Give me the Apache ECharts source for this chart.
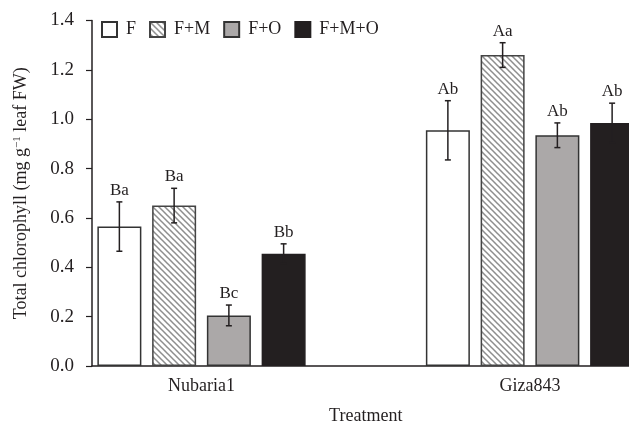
<!DOCTYPE html>
<html>
<head>
<meta charset="utf-8">
<script src="https://cdn.jsdelivr.net/npm/echarts@6/dist/echarts.min.js"></script>
<style>
  html, body { margin: 0; padding: 0; background: #fff; }
  #chart { width: 629px; height: 423px; }
</style>
</head>
<body>
<div id="chart"></div>
<script>
// Datos
const cultivars = ['Nubaria1', 'Giza843'];
const treatments = ['F', 'F+M', 'F+O', 'F+M+O'];
const meanNubaria = [0.565, 0.65, 0.205, 0.455];
const errNubaria = [0.10, 0.07, 0.042, 0.04];
const lettersNubaria = ['Ba', 'Ba', 'Bc', 'Bb'];
const meanGiza = [0.955, 1.26, 0.935, 0.985];
const errGiza = [0.12, 0.05, 0.05, 0.08];
const lettersGiza = ['Ab', 'Aa', 'Ab', 'Ab'];
const yTickLabels = ['0.0', '0.2', '0.4', '0.6', '0.8', '1.0', '1.2', '1.4'];

const means = [meanNubaria, meanGiza];
const errs = [errNubaria, errGiza];
const letters = [lettersNubaria, lettersGiza];

const FONT = '"Liberation Serif", "Times New Roman", serif';
const INK = '#231f20';
const spacerSlots = 2;
const groupSize = treatments.length + spacerSlots;
const slotCount = cultivars.length * groupSize - spacerSlots;

// Trama diagonal para F+M
function hatchPattern() {
    const c = document.createElement('canvas');
    c.width = 6; c.height = 6;
    const ctx = c.getContext('2d');
    ctx.fillStyle = '#fff';
    ctx.fillRect(0, 0, 6, 6);
    ctx.strokeStyle = '#8e8e8e';
    ctx.lineWidth = 1.5;
    ctx.beginPath();
    ctx.moveTo(-1, -1); ctx.lineTo(7, 7);
    ctx.moveTo(-1, 5); ctx.lineTo(1, 7);
    ctx.moveTo(5, -1); ctx.lineTo(7, 1);
    ctx.stroke();
    return { image: c, repeat: 'repeat' };
}

const fills = ['#ffffff', hatchPattern(), '#aba8a8', INK];
const borders = ['#333', '#444', '#333', INK];

// Categorías de ranuras (con separadores vacíos)
const slotNames = [];
for (let s = 0; s < slotCount; s++) {
    const g = Math.floor(s / groupSize), t = s % groupSize;
    slotNames.push(t < treatments.length ? cultivars[g] + ' ' + treatments[t] : '');
}

// Eje de etiquetas de grupo: puntos cada 2 ranuras, el nombre va en el centro de cada grupo
const labelPoints = [];
for (let i = 0; i <= slotCount / 2; i++) labelPoints.push('');
cultivars.forEach((c, ci) => { labelPoints[(ci * groupSize + treatments.length / 2) / 2] = c; });

const barSeries = treatments.map((name, ti) => {
    const data = Array(slotCount).fill('-');
    cultivars.forEach((c, ci) => { data[ci * groupSize + ti] = means[ci][ti]; });
    return {
        name: name,
        type: 'bar',
        xAxisIndex: 0,
        data: data,
        barWidth: 44,
        barGap: '-100%',
        itemStyle: { color: fills[ti], borderColor: borders[ti], borderWidth: 1.5 },
        silent: true
    };
});

const errData = [], errLetters = [];
cultivars.forEach((c, ci) => {
    treatments.forEach((t, ti) => {
        errData.push([ci * groupSize + ti, means[ci][ti], errs[ci][ti]]);
        errLetters.push(letters[ci][ti]);
    });
});

const errSeries = {
    type: 'custom',
    xAxisIndex: 0,
    data: errData,
    z: 10,
    silent: true,
    renderItem: function(params, api) {
        const x = api.value(0), m = api.value(1), e = api.value(2);
        const top = api.coord([x, m + e]);
        const bot = api.coord([x, m - e]);
        const cx = top[0], cap = 3;
        const st = { stroke: INK, lineWidth: 1.5 };
        return {
            type: 'group',
            children: [
                { type: 'line', shape: { x1: cx, y1: top[1], x2: cx, y2: bot[1] }, style: st },
                { type: 'line', shape: { x1: cx - cap, y1: top[1], x2: cx + cap, y2: top[1] }, style: st },
                { type: 'line', shape: { x1: cx - cap, y1: bot[1], x2: cx + cap, y2: bot[1] }, style: st },
                { type: 'text', style: {
                    text: errLetters[params.dataIndex], x: cx, y: top[1] - 3,
                    align: 'center', verticalAlign: 'bottom',
                    font: '17px ' + FONT, fill: INK
                } }
            ]
        };
    }
};

const chart = echarts.init(document.getElementById('chart'));
chart.setOption({
    animation: false,
    textStyle: { fontFamily: FONT, color: INK },
    grid: { left: 92, right: -10.5, top: 20.5, bottom: 57, outerBoundsMode: 'none', containLabel: false },
    legend: {
        data: treatments,
        left: 101,
        top: 20.5,
        padding: 0,
        icon: 'rect',
        itemWidth: 15,
        itemHeight: 15,
        itemGap: 13,
        textStyle: { fontFamily: FONT, fontSize: 18, color: INK, padding: [0, 0, 0, 4] }
    },
    xAxis: [
        {
            type: 'category',
            data: slotNames,
            position: 'bottom',
            axisLine: { lineStyle: { color: INK, width: 1.5 } },
            axisTick: { show: false },
            axisLabel: { show: false }
        },
        {
            type: 'category',
            data: labelPoints,
            boundaryGap: false,
            position: 'bottom',
            axisLine: { show: false },
            axisTick: { show: false },
            axisLabel: { interval: 0, margin: 11, fontSize: 18, fontFamily: FONT, color: INK },
            name: 'Treatment',
            nameLocation: 'middle',
            nameGap: 41,
            nameTextStyle: { fontSize: 18, fontFamily: FONT, color: INK }
        }
    ],
    yAxis: {
        type: 'value',
        min: 0,
        max: 1.4,
        interval: 0.2,
        splitLine: { show: false },
        axisLine: { show: true, lineStyle: { color: INK, width: 1.5 } },
        axisTick: { show: true, inside: false, length: 6, lineStyle: { color: INK, width: 1.2 } },
        axisLabel: {
            margin: 18, fontSize: 19, fontFamily: FONT, color: INK,
            formatter: function(v) { return yTickLabels[Math.round(v / 0.2)]; }
        },
        name: 'Total chlorophyll (mg g{sup|−1} leaf FW)',
        nameLocation: 'middle',
        nameGap: 62,
        nameTextStyle: {
            fontSize: 18, fontFamily: FONT, color: INK,
            rich: { sup: { fontSize: 11, fontFamily: FONT, color: INK, verticalAlign: 'top', padding: [0, 0, 6, 0] } }
        }
    },
    series: barSeries.concat([errSeries])
});
</script>
</body>
</html>
